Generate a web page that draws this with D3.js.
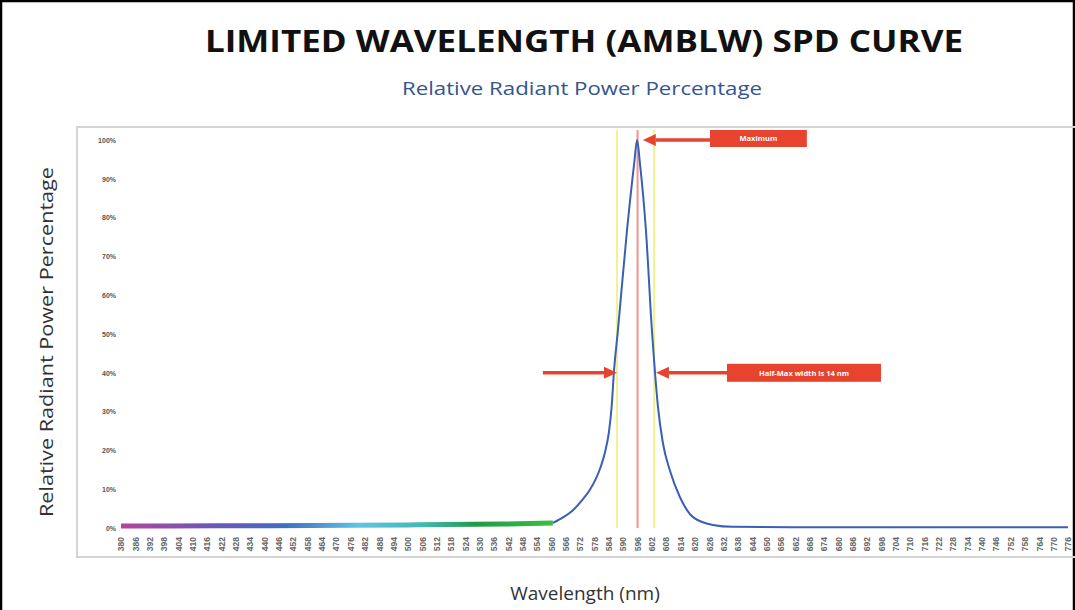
<!DOCTYPE html>
<html>
<head>
<meta charset="utf-8">
<script src="https://cdn.jsdelivr.net/npm/d3@7"></script>
<style>
  body { margin: 0; background: #fff; }
  svg { display: block; font-family: "Open Sans", "Liberation Sans", sans-serif; }
</style>
</head>
<body>
<div class="chart"></div>
<script>
// chart values
var titleText = "LIMITED WAVELENGTH (AMBLW) SPD CURVE";
var subtitleText = "Relative Radiant Power Percentage";
var yTitle = "Relative Radiant Power Percentage";
var xTitle = "Wavelength (nm)";

var xTicks = d3.range(380, 777, 6);          // 380, 386 ... 776
var yTicks = [0, 10, 20, 30, 40, 50, 60, 70, 80, 90, 100];

// coloured baseline part of the curve (visible spectrum below the peak)
var baseNm  = [380, 420, 460, 500, 540, 560.6];
var basePct = [0.5, 0.55, 0.65, 0.8, 1.0, 1.3];

// blue peak part of the curve
var peakNm  = [560.6, 565, 569, 573, 576, 578.5, 580.5, 582.5, 584, 585.2, 586.1, 587.8, 591.6, 594.6, 595.8, 597, 599.5, 602, 603.3, 604.5, 606.6, 609.5, 613.7, 619.2, 627.5, 635.9, 660, 700, 740, 776];
var peakPct = [1.3, 2.8, 4.6, 7.3, 9.8, 12.6, 15.6, 19.8, 24.6, 31.5, 40, 51, 76.8, 94, 100, 94, 76.8, 51, 40, 31.5, 21.9, 14.9, 8, 2.8, 0.8, 0.3, 0.2, 0.2, 0.2, 0.2];

var peakWavelength = 596;
var halfMaxBounds = [587.4, 602.9];

var svgWidth = 1075;
var svgHeight = 610;

var svg = d3.select(".chart")
    .append("svg")
    .attr("width", svgWidth)
    .attr("height", svgHeight);

// outer black border
svg.append("rect")
    .attr("x", 1).attr("y", 1)
    .attr("width", svgWidth - 2).attr("height", svgHeight + 10)
    .attr("fill", "none")
    .attr("stroke", "#000")
    .attr("stroke-width", 2.5);

// scales
var x = d3.scaleLinear().domain([380, 776]).range([121, 1068]);
var y = d3.scaleLinear().domain([0, 100]).range([528, 140]);

// plot frame
svg.append("path")
    .attr("d", "M1080,127 H77 V557 H1080")
    .attr("fill", "none")
    .attr("stroke", "#d4d4d4")
    .attr("stroke-width", 2);

// titles
svg.append("text")
    .attr("x", 584).attr("y", 52)
    .attr("text-anchor", "middle")
    .attr("font-size", 31)
    .attr("font-weight", 700)
    .attr("textLength", 758)
    .attr("lengthAdjust", "spacingAndGlyphs")
    .attr("fill", "#111")
    .text(titleText);

svg.append("text")
    .attr("x", 582).attr("y", 95)
    .attr("text-anchor", "middle")
    .attr("font-size", 19)
    .attr("textLength", 360)
    .attr("lengthAdjust", "spacingAndGlyphs")
    .attr("fill", "#34558f")
    .text(subtitleText);

svg.append("text")
    .attr("transform", "translate(53, 342) rotate(-90)")
    .attr("text-anchor", "middle")
    .attr("font-size", 19)
    .attr("textLength", 350)
    .attr("lengthAdjust", "spacingAndGlyphs")
    .attr("fill", "#333")
    .text(yTitle);

svg.append("text")
    .attr("x", 585).attr("y", 600)
    .attr("text-anchor", "middle")
    .attr("font-size", 19)
    .attr("fill", "#333")
    .text(xTitle);

// axes (labels only)
var leftAxis = d3.axisLeft(y)
    .tickValues(yTicks)
    .tickSize(0)
    .tickPadding(0)
    .tickFormat(d => d + "%");

var gy = svg.append("g")
    .attr("transform", "translate(116,0)")
    .call(leftAxis);
gy.select(".domain").remove();
gy.selectAll("text")
    .attr("font-size", 7)
    .attr("font-weight", 600)
    .attr("fill", "#555");

var bottomAxis = d3.axisBottom(x)
    .tickValues(xTicks)
    .tickSize(0)
    .tickFormat(d3.format("d"));

var gx = svg.append("g")
    .attr("transform", "translate(0,537)")
    .call(bottomAxis);
gx.select(".domain").remove();
gx.selectAll(".tick text")
    .attr("font-size", 8.5)
    .attr("font-weight", 600)
    .attr("fill", "#666")
    .attr("text-anchor", "end")
    .attr("transform", "rotate(-90)")
    .attr("x", 0)
    .attr("y", 0)
    .attr("dy", "0.32em");

// vertical marker lines
var lineTop = 130;
svg.selectAll("line.halfmax")
    .data(halfMaxBounds)
    .enter()
    .append("line")
    .attr("class", "halfmax")
    .attr("x1", d => x(d)).attr("x2", d => x(d))
    .attr("y1", lineTop).attr("y2", y(0))
    .attr("stroke", "#eef07c")
    .attr("stroke-width", 1.6);

svg.append("line")
    .attr("x1", x(peakWavelength)).attr("x2", x(peakWavelength))
    .attr("y1", lineTop).attr("y2", y(0))
    .attr("stroke", "#f2928a")
    .attr("stroke-width", 2);

// gradient baseline
var defs = svg.append("defs");
var grad = defs.append("linearGradient")
    .attr("id", "spectrum")
    .attr("gradientUnits", "userSpaceOnUse")
    .attr("x1", x(380)).attr("x2", x(560.6))
    .attr("y1", 0).attr("y2", 0);
[["0%", "#b4449e"], ["22%", "#6a58b8"], ["38%", "#3f6fc0"], ["55%", "#5fc3e6"], ["70%", "#45b8b0"], ["82%", "#1f9a4a"], ["100%", "#3cbf3c"]]
    .forEach(function(s) {
        grad.append("stop").attr("offset", s[0]).attr("stop-color", s[1]);
    });

var line = d3.line()
    .x(d => x(d[0]))
    .y(d => y(d[1]))
    .curve(d3.curveMonotoneX);

svg.append("path")
    .datum(d3.zip(baseNm, basePct))
    .attr("d", line)
    .attr("fill", "none")
    .attr("stroke", "url(#spectrum)")
    .attr("stroke-width", 5);

svg.append("path")
    .datum(d3.zip(peakNm, peakPct))
    .attr("d", line)
    .attr("fill", "none")
    .attr("stroke", "#3b5fb4")
    .attr("stroke-width", 2);

// annotations
var red = "#e8432f";

function arrow(x1, x2, yy) {
    var dir = x2 > x1 ? 1 : -1;
    var head = 13;
    svg.append("line")
        .attr("x1", x1).attr("x2", x2 - dir * head)
        .attr("y1", yy).attr("y2", yy)
        .attr("stroke", red)
        .attr("stroke-width", 3.5);
    svg.append("path")
        .attr("d", `M${x2},${yy} L${x2 - dir * head},${yy - 6} L${x2 - dir * head},${yy + 6} Z`)
        .attr("fill", red);
}

function labelBox(x1, x2, yc, h, txt) {
    svg.append("rect")
        .attr("x", x1).attr("y", yc - h / 2)
        .attr("width", x2 - x1).attr("height", h)
        .attr("fill", red);
    svg.append("text")
        .attr("x", (x1 + x2) / 2).attr("y", yc + 2.8)
        .attr("text-anchor", "middle")
        .attr("font-size", 7.5)
        .attr("font-weight", 700)
        .attr("fill", "#fff")
        .text(txt);
}

// Maximum
var yMax = y(100);
arrow(x(626.3), x(598.2), yMax);
labelBox(x(626.3), x(666.8), yMax - 1.5, 17, "Maximum");

// Half-max
var yHalf = y(40);
arrow(x(556.4), x(587.4), yHalf);
arrow(x(633.4), x(603.7), yHalf);
labelBox(x(633.4), x(697.8), yHalf, 18, "Half-Max width is 14 nm");
</script>
</body>
</html>
